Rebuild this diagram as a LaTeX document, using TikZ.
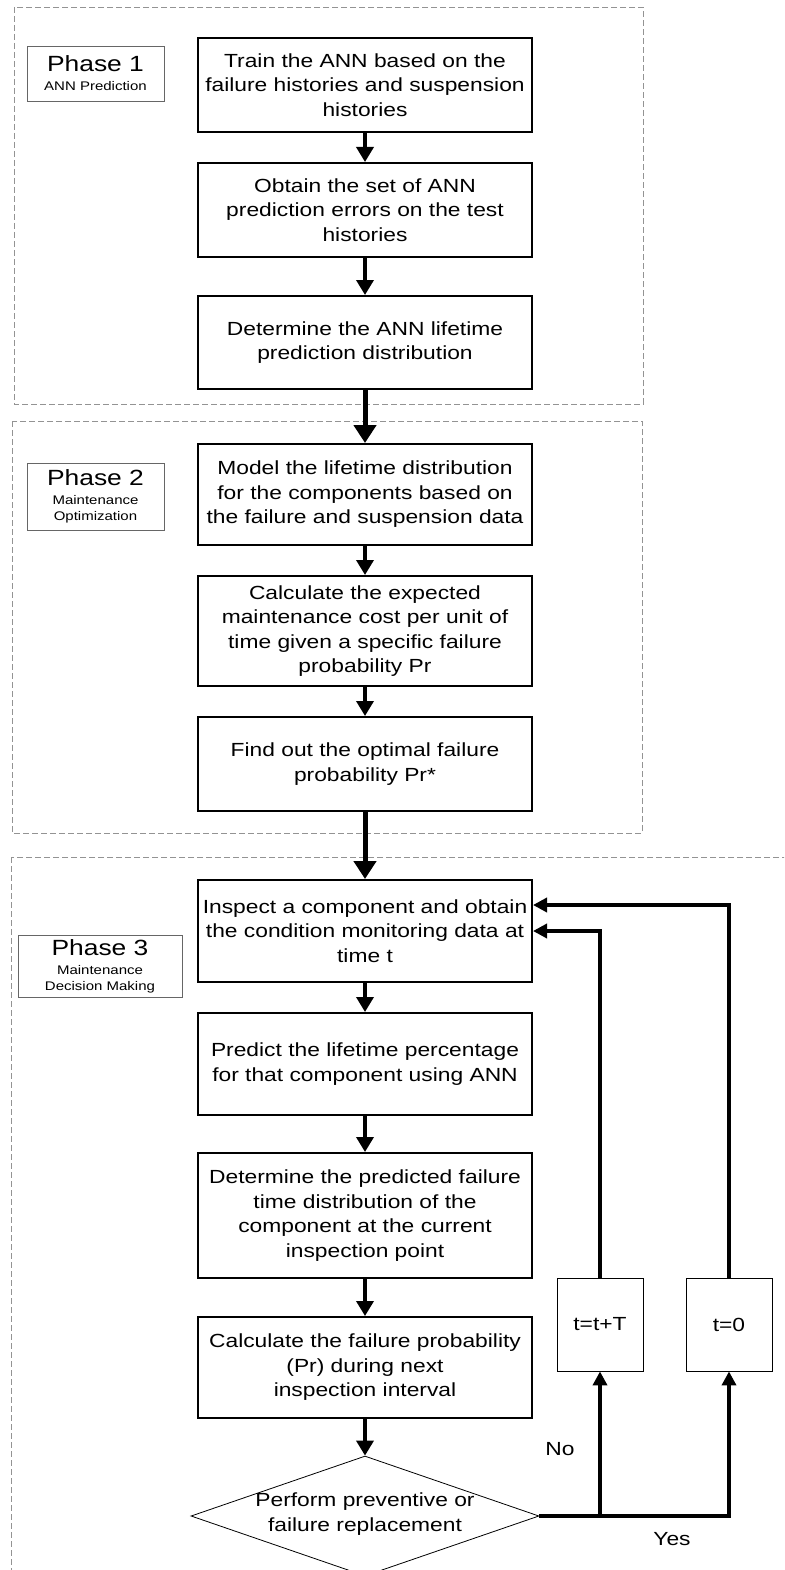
\documentclass[tikz,border=0pt]{standalone}
\usepackage{fontspec}
\setmainfont{Liberation Sans}[FakeStretch=1.2]
\usetikzlibrary{positioning,arrows.meta,shapes.geometric,calc}

\begin{document}
\begin{tikzpicture}[x=1pt,y=-1pt,
    stepbox/.style={draw,line width=2pt,minimum width=334pt,align=center,inner sep=0pt,font=\fontsize{19}{24.5}\selectfont},
    phasebox/.style={draw=gray!80!black,line width=0.8pt,align=center,inner sep=0pt,font=\fontsize{12.5}{16}\selectfont},
    phaseframe/.style={draw=gray!85,line width=0.9pt,dash pattern=on 6pt off 3pt},
    flow/.style={line width=3.5pt,-{Triangle[length=15pt,width=17pt]}},
    bigflow/.style={line width=5pt,-{Triangle[length=18pt,width=22pt]}},
    back/.style={line width=3.5pt,-{Triangle[length=14pt,width=14pt]}},
    tbox/.style={draw,line width=0.8pt,minimum width=86pt,minimum height=93pt,inner sep=0pt,font=\fontsize{19}{24.5}\selectfont},
    decision/.style={draw,diamond,line width=0.8pt,inner sep=0pt,minimum width=348pt,minimum height=120pt}]
    \clip (0,0) rectangle (784,1570);

    % dashed phase frames
    \draw[phaseframe] (14,7) rectangle (643,404);
    \draw[phaseframe] (12,421) rectangle (642,833);
    \draw[phaseframe] (11,857) rectangle (820,1620);

    \node[phasebox,minimum width=137pt,minimum height=55pt] (ph1) at (95.5,73.5)
    {{\fontsize{22}{22}\selectfont Phase 1}\\[3pt]ANN Prediction};
    \node[phasebox,minimum width=137pt,minimum height=67pt] (ph2) at (95.5,496.5)
    {{\fontsize{22}{22}\selectfont Phase 2}\\[3pt]Maintenance\\Optimization};
    \node[phasebox,minimum width=164pt,minimum height=62pt] (ph3) at (100,966)
    {{\fontsize{22}{22}\selectfont Phase 3}\\[3pt]Maintenance\\Decision Making};

    % phase 1
    \node[stepbox,minimum height=94pt] (train) at (365,85)
    {Train the ANN based on the\\failure histories and suspension\\histories};
    \node[stepbox,minimum height=94pt] (errors) at (365,210)
    {Obtain the set of ANN\\prediction errors on the test\\histories};
    \node[stepbox,minimum height=93pt] (annpdf) at (365,342.5)
    {Determine the ANN lifetime\\prediction distribution};

    % phase 2
    \node[stepbox,minimum height=101pt] (model) at (365,494.5)
    {Model the lifetime distribution\\for the components based on\\the failure and suspension data};
    \node[stepbox,minimum height=110pt] (cost) at (365,631)
    {Calculate the expected\\maintenance cost per unit of\\time given a specific failure\\probability Pr};
    \node[stepbox,minimum height=94pt] (optim) at (365,764)
    {Find out the optimal failure\\probability Pr*};

    % phase 3
    \node[stepbox,minimum height=102pt] (inspect) at (365,931)
    {Inspect a component and obtain\\the condition monitoring data at\\time t};
    \node[stepbox,minimum height=102pt] (predict) at (365,1064)
    {Predict the lifetime percentage\\for that component using ANN};
    \node[stepbox,minimum height=125pt] (failpdf) at (365,1215.5)
    {Determine the predicted failure\\time distribution of the\\component at the current\\inspection point};
    \node[stepbox,minimum height=101pt] (failprob) at (365,1367.5)
    {Calculate the failure probability\\(Pr) during next\\inspection interval};
    \node[decision] (replace) at (365,1516) {};
    \node[font=\fontsize{19}{24.5}\selectfont,align=center] (replacetxt) at (365,1514)
    {Perform preventive or\\failure replacement};

    \node[tbox] (tnext) at (600,1324.5) {t=t+T};
    \node[tbox] (tzero) at (729,1324.5) {t=0};

    \node[font=\fontsize{19}{24.5}\selectfont] (no) at (560,1449) {No};
    \node[font=\fontsize{19}{24.5}\selectfont] (yes) at (672,1539) {Yes};

    % arrows
    \draw[flow] (train) -- (errors);
    \draw[flow] (errors) -- (annpdf);
    \draw[bigflow] (annpdf) -- (model);
    \draw[flow] (model) -- (cost);
    \draw[flow] (cost) -- (optim);
    \draw[bigflow] (optim) -- (inspect);
    \draw[flow] (inspect) -- (predict);
    \draw[flow] (predict) -- (failpdf);
    \draw[flow] (failpdf) -- (failprob);
    \draw[flow] (failprob) -- (replace);

    \draw[back] (replace.east) -| (tzero.south);
    \draw[back] (tnext.south |- replace.east) -- (tnext.south);
    \draw[back] (tnext.north) |- (inspect.east);
    \draw[back] (tzero.north) |- ([yshift=26pt]inspect.east);
\end{tikzpicture}
\end{document}
